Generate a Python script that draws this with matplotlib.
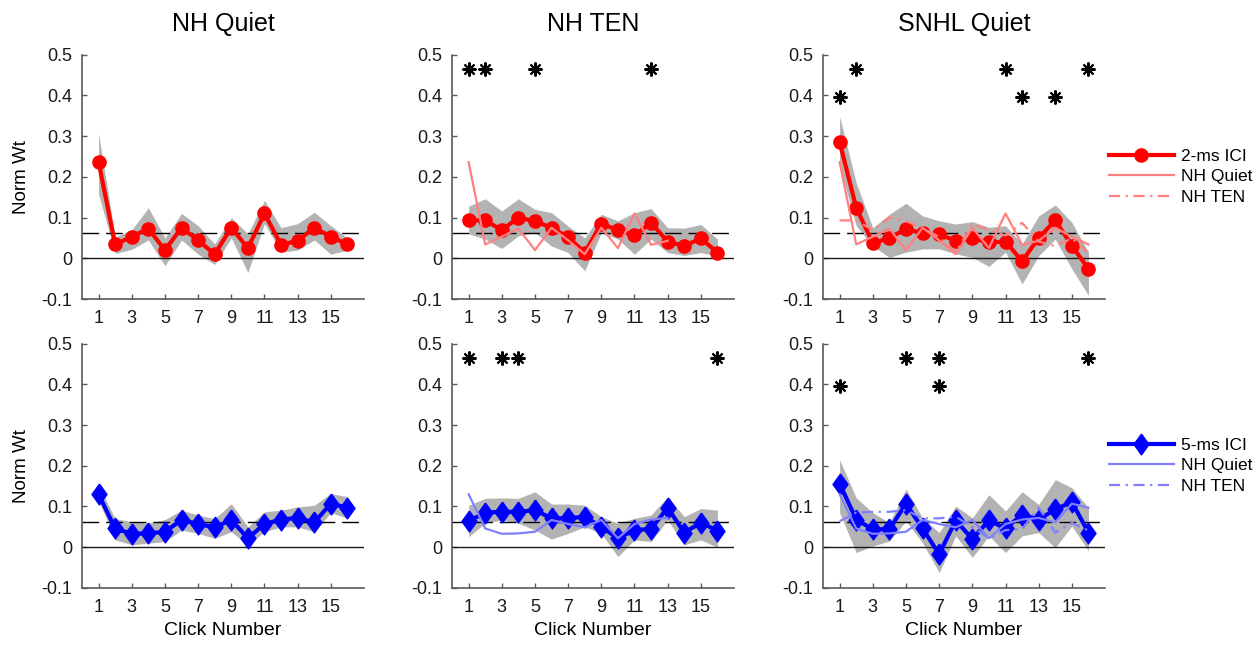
import matplotlib
matplotlib.use("Agg")
import matplotlib.pyplot as plt
import numpy as np

plt.rcParams['font.family'] = ['Liberation Sans', 'DejaVu Sans']

clicks = np.arange(1, 17)
conditions = ['NH Quiet', 'NH TEN', 'SNHL Quiet']
xtick_vals = [1, 3, 5, 7, 9, 11, 13, 15]
ytick_vals = [-0.1, 0, 0.1, 0.2, 0.3, 0.4, 0.5]
ytick_labels = ['-0.1', '0', '0.1', '0.2', '0.3', '0.4', '0.5']
chance_wt = 1 / 16

# 2-ms ICI: mean normalized weight and shaded band (lo / hi)
nhq_2 = [0.236, 0.034, 0.053, 0.073, 0.020, 0.075, 0.044, 0.010, 0.075, 0.025, 0.110, 0.033, 0.043, 0.075, 0.053, 0.034]
nhq_2_lo = [0.157, 0.012, 0.022, 0.045, -0.018, 0.045, 0.010, -0.015, 0.050, -0.035, 0.085, 0.015, 0.020, 0.045, 0.010, 0.020]
nhq_2_hi = [0.306, 0.052, 0.070, 0.124, 0.050, 0.110, 0.080, 0.035, 0.100, 0.060, 0.142, 0.075, 0.085, 0.113, 0.080, 0.050]

nht_2 = [0.093, 0.093, 0.069, 0.100, 0.091, 0.075, 0.052, 0.014, 0.085, 0.069, 0.056, 0.087, 0.041, 0.030, 0.049, 0.014]
nht_2_lo = [0.060, 0.047, 0.024, 0.055, 0.063, 0.030, 0.014, -0.031, 0.063, 0.047, 0.010, 0.047, 0.014, 0.007, 0.014, 0.006]
nht_2_hi = [0.128, 0.146, 0.116, 0.146, 0.120, 0.112, 0.079, 0.050, 0.108, 0.092, 0.112, 0.122, 0.075, 0.074, 0.083, 0.047]

snq_2 = [0.285, 0.124, 0.037, 0.050, 0.072, 0.061, 0.059, 0.043, 0.049, 0.039, 0.041, -0.007, 0.050, 0.093, 0.031, -0.026]
snq_2_lo = [0.225, 0.080, 0.030, 0.002, 0.015, 0.023, 0.023, 0.011, 0.002, -0.020, 0.015, -0.063, 0.006, 0.047, -0.026, -0.091]
snq_2_hi = [0.348, 0.185, 0.075, 0.108, 0.135, 0.104, 0.092, 0.084, 0.090, 0.076, 0.080, 0.035, 0.104, 0.131, 0.088, 0.015]

# 5-ms ICI
nhq_5 = [0.130, 0.046, 0.033, 0.034, 0.038, 0.067, 0.057, 0.049, 0.067, 0.022, 0.057, 0.068, 0.072, 0.061, 0.107, 0.097]
nhq_5_lo = [0.115, 0.018, 0.006, 0.010, 0.014, 0.042, 0.034, 0.022, 0.038, 0.005, 0.038, 0.050, 0.050, 0.038, 0.085, 0.071]
nhq_5_hi = [0.152, 0.070, 0.063, 0.059, 0.068, 0.091, 0.079, 0.070, 0.107, 0.050, 0.087, 0.091, 0.099, 0.103, 0.132, 0.124]

nht_5 = [0.064, 0.085, 0.087, 0.087, 0.091, 0.071, 0.071, 0.075, 0.050, 0.022, 0.042, 0.045, 0.097, 0.036, 0.060, 0.041]
nht_5_lo = [0.026, 0.059, 0.067, 0.059, 0.042, 0.020, 0.034, 0.050, 0.034, -0.023, 0.018, 0.014, 0.067, 0.006, 0.018, 0.000]
nht_5_hi = [0.103, 0.120, 0.121, 0.120, 0.136, 0.106, 0.106, 0.103, 0.075, 0.059, 0.071, 0.079, 0.124, 0.075, 0.095, 0.091]

snq_5 = [0.156, 0.068, 0.044, 0.044, 0.107, 0.046, -0.017, 0.066, 0.020, 0.066, 0.046, 0.080, 0.068, 0.093, 0.111, 0.036]
snq_5_lo = [0.085, -0.013, 0.003, 0.015, 0.064, 0.011, -0.062, 0.028, -0.025, 0.028, -0.013, 0.028, 0.036, -0.001, 0.052, -0.009]
snq_5_hi = [0.215, 0.121, 0.085, 0.060, 0.143, 0.072, 0.036, 0.101, 0.072, 0.129, 0.089, 0.136, 0.105, 0.166, 0.146, 0.097]

# significance asterisks (click, height)
sig_2_x = [[], [1, 2, 5, 12], [1, 2, 11, 12, 14, 16]]
sig_2_y = [[], [0.465, 0.465, 0.465, 0.465], [0.395, 0.465, 0.465, 0.395, 0.395, 0.465]]
sig_5_x = [[], [1, 3, 4, 16], [1, 5, 7, 7, 16]]
sig_5_y = [[], [0.465, 0.465, 0.465, 0.465], [0.395, 0.465, 0.465, 0.395, 0.465]]

# NH Quiet overlay in the NH TEN panel only runs to click 13
nhq_overlay_len = 13

rows = [
    dict(label='2-ms ICI', color=(1, 0, 0), light=(1, 0.5, 0.5), marker='o', ms=9.5,
         means=[nhq_2, nht_2, snq_2], los=[nhq_2_lo, nht_2_lo, snq_2_lo],
         his=[nhq_2_hi, nht_2_hi, snq_2_hi], sx=sig_2_x, sy=sig_2_y),
    dict(label='5-ms ICI', color=(0, 0, 1), light=(0.5, 0.5, 1),
         marker=[(0, 1), (0.72, 0), (0, -1), (-0.72, 0), (0, 1)], ms=15,
         means=[nhq_5, nht_5, snq_5], los=[nhq_5_lo, nht_5_lo, snq_5_lo],
         his=[nhq_5_hi, nht_5_hi, snq_5_hi], sx=sig_5_x, sy=sig_5_y),
]

fig = plt.figure(figsize=(12.56, 6.45), dpi=100)
lefts = [0.0653, 0.3599, 0.6553]
bottoms = [0.5364, 0.0884]
width, height = 0.2245, 0.379
axis_gray = '0.35'

for r, row in enumerate(rows):
    for c in range(3):
        ax = fig.add_axes([lefts[c], bottoms[r], width, height])
        ax.fill_between(clicks, row['los'][c], row['his'][c], color='0.7', lw=0, zorder=1)
        ax.axhline(0, color='0.1', lw=1.0, zorder=2)
        ax.axhline(chance_wt, color='k', lw=1.0, dashes=(12, 5), zorder=2)
        main, = ax.plot(clicks, row['means'][c], color=row['color'], lw=3,
                        marker=row['marker'], ms=row['ms'], mec=row['color'], zorder=3)
        handles = [main]
        if c >= 1:
            n = nhq_overlay_len if c == 1 else len(clicks)
            q, = ax.plot(clicks[:n], row['means'][0][:n], color=row['light'], lw=1.6, zorder=4)
            handles.append(q)
        if c == 2:
            t, = ax.plot(clicks, row['means'][1], color=row['light'], lw=1.6,
                         dashes=(5, 2.5, 1, 2.5), zorder=4)
            handles.append(t)
            ax.legend(handles, [row['label'], 'NH Quiet', 'NH TEN'], loc='center left',
                      bbox_to_anchor=(1.0, 0.5), frameon=False, fontsize=12.5,
                      handlelength=3.8, handletextpad=0.4, labelspacing=0.3,
                      borderaxespad=0.0, borderpad=0.2)
        ax.plot(row['sx'][c], row['sy'][c], linestyle='none', marker=(8, 2, 0),
                ms=10, mew=1.5, color='k', zorder=5)

        ax.set_xlim(0, 17)
        ax.set_ylim(-0.1, 0.5)
        ax.set_xticks(xtick_vals)
        ax.set_yticks(ytick_vals)
        ax.set_yticklabels(ytick_labels)
        ax.tick_params(direction='in', length=3.5, width=1, color=axis_gray,
                       labelsize=13, labelcolor='0.1')
        ax.tick_params(axis='x', pad=8)
        ax.tick_params(axis='y', pad=7)
        for side in ['top', 'right']:
            ax.spines[side].set_visible(False)
        for side in ['left', 'bottom']:
            ax.spines[side].set_color(axis_gray)
            ax.spines[side].set_linewidth(1.2)
        if c == 0:
            ax.set_ylabel('Norm Wt', fontsize=13.5, labelpad=8)
        if r == 0:
            ax.set_title(conditions[c], fontsize=18, pad=17)
        else:
            ax.set_xlabel('Click Number', fontsize=14, labelpad=4)

fig.savefig('out.png', dpi=100)
